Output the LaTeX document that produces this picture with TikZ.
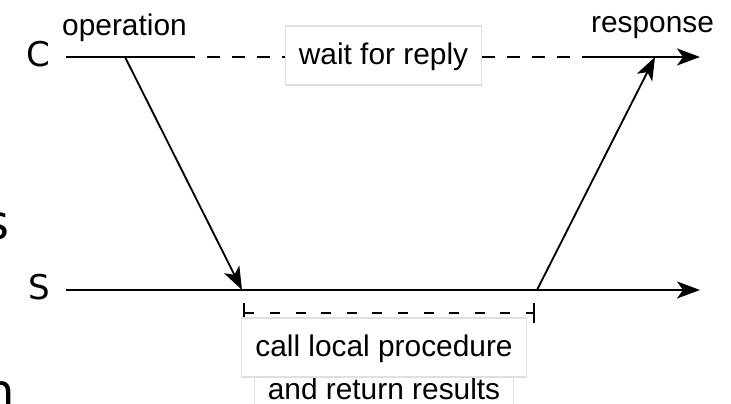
\documentclass[tikz,border=0pt]{standalone}
\usepackage{fontspec}
\setmainfont{Liberation Sans}
\newfontfamily\procfont{DejaVu Sans}
\usetikzlibrary{arrows.meta}

\begin{document}
\begin{tikzpicture}[
  x=0.02cm, y=-0.02cm,
  line width=1.05pt,
  arrow/.style={-{Stealth[length=0.46cm, width=0.34cm, inset=0.12cm]}},
  procname/.style={font=\procfont\fontsize{19.4}{23}\selectfont, inner sep=0pt, anchor=base},
  cutoff/.style={font=\procfont\fontsize{27.3}{32}\selectfont, inner sep=0pt, anchor=base east},
  msg/.style={font=\fontsize{17}{20}\selectfont, inner sep=0pt, anchor=base},
  textbox/.style={draw=gray!25, line width=0.6pt, fill=white, anchor=base,
    font=\fontsize{17}{20}\selectfont, inner xsep=0.27cm, inner ysep=0pt,
    text height=0.78cm, text depth=0.4cm},
  waitline/.style={dash pattern=on 7.4pt off 6.83pt, dash phase=7.4pt},
  busyline/.style={{Bar[width=0.4cm]}-{Bar[width=0.4cm]}, dash pattern=on 5.69pt off 8.88pt}
]
  \useasboundingbox (0,0) rectangle (731,404);

  % text running in from the left margin
  \node[cutoff] (frag1) at (10.4,240) {s};
  \node[cutoff] (frag2) at (16,409) {n};

  % client and server time lines
  \node[procname] (C) at (38.5,67) {C};
  \node[procname] (S) at (39.5,300) {S};
  \coordinate (c0) at (66,57);
  \coordinate (op) at (125,57);
  \coordinate (c1) at (195,57);
  \coordinate (c2) at (595,57);
  \coordinate (resp) at (655,57);
  \coordinate (c3) at (700,57);
  \coordinate (s0) at (66,290);
  \coordinate (s1) at (242,290);
  \coordinate (s2) at (537,290);
  \coordinate (s3) at (700,290);
  \coordinate (b0) at (243,313);
  \coordinate (b1) at (535,313);

  \draw (c0) -- (c1);
  \draw[waitline] (c1) -- (c2);
  \draw[arrow] (c2) -- (c3);
  \draw[arrow] (s0) -- (s3);
  \draw[arrow] (op) -- (s1);
  \draw[arrow] (s2) -- (resp);
  \draw[busyline] (b0) -- (b1);

  \node[msg] (operation) at (124.5,36) {operation};
  \node[msg] (response) at (652.5,33) {response};
  \node[textbox] (reply) at (383.5,65) {wait for reply};
  \node[textbox, text depth=0.8cm] (proc2) at (384,400) {and return results};
  \node[textbox] (proc1) at (384,357) {call local procedure};
\end{tikzpicture}
\end{document}
